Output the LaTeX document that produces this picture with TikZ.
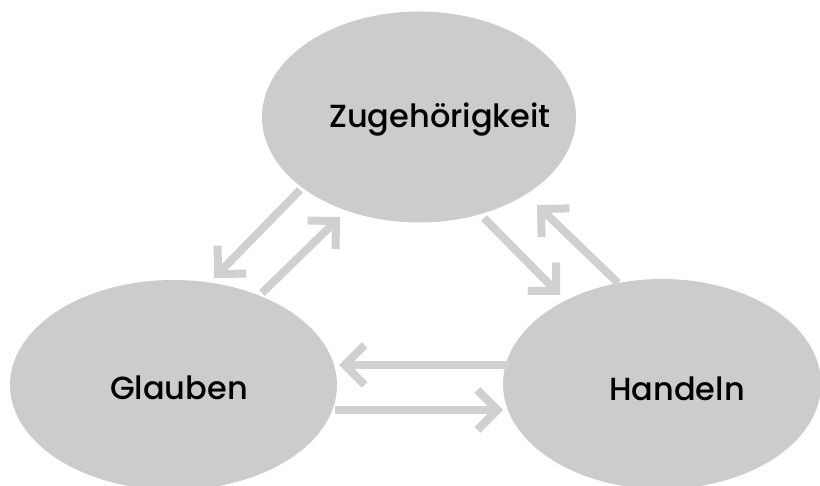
\documentclass[tikz,border=0pt]{standalone}
\usepackage{fontspec}
\setmainfont{Poppins}[UprightFont={* Medium}]
\usetikzlibrary{arrows.meta,shapes.geometric}
\definecolor{ellgray}{HTML}{CCCCCC}
\definecolor{arrgray}{HTML}{D0D0D0}
\tikzset{
  bubble/.style={ellipse, fill=ellgray, draw=none, inner sep=0pt},
  lbl/.style={anchor=base, inner sep=0pt, font=\fontsize{32}{38}\selectfont},
  link/.style={draw=arrgray, line width=8pt, -{Straight Barb[length=20pt,width=40pt,sharp]}}
}
\begin{document}
\begin{tikzpicture}[x=1pt,y=-1pt]
\useasboundingbox (0,0) rectangle (820,486);
\node[bubble, minimum width=314pt, minimum height=211pt] (top) at (419,117) {};
\node[bubble, minimum width=327pt, minimum height=210pt] (left) at (173.5,385) {};
\node[bubble, minimum width=318pt, minimum height=210pt] (right) at (662,384) {};
\node[lbl] (topl) at (440,128) {Zugehörigkeit};
\node[lbl] (leftl) at (179,400) {Glauben};
\node[lbl] (rightl) at (677,401) {Handeln};
\coordinate (a1s) at (300,190); \coordinate (a1e) at (214,278);
\coordinate (a2s) at (262,293); \coordinate (a2e) at (340,217);
\coordinate (a3s) at (484,218); \coordinate (a3e) at (560,295);
\coordinate (a4s) at (618,283); \coordinate (a4e) at (537,205);
\coordinate (a5s) at (510,365); \coordinate (a5e) at (339,365);
\coordinate (a6s) at (335,410); \coordinate (a6e) at (503,410);
\draw[link] (a1s) -- (a1e);
\draw[link] (a2s) -- (a2e);
\draw[link] (a3s) -- (a3e);
\draw[link] (a4s) -- (a4e);
\draw[link] (a5s) -- (a5e);
\draw[link] (a6s) -- (a6e);
\end{tikzpicture}
\end{document}
